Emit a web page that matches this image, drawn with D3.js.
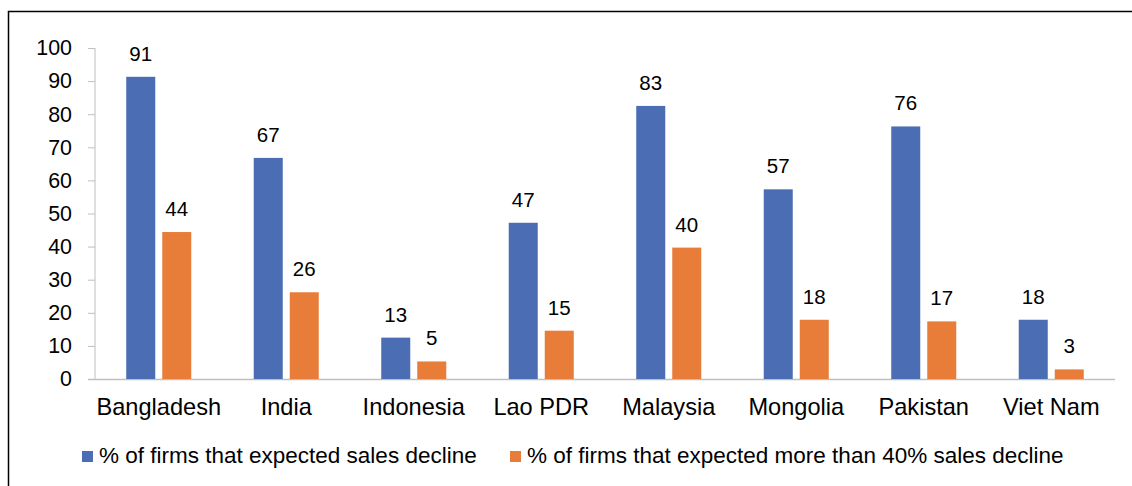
<!DOCTYPE html>
<html>
<head>
    <meta charset="UTF-8">
    <title>Expected sales decline</title>
    <script src="https://d3js.org/d3.v7.min.js"></script>
    <style>
        body { margin: 0; padding: 0; background: #fff; }
        svg { display: block; font-family: 'Liberation Sans', Arial, sans-serif; }
        .ytick text { font-size: 21.4px; fill: #000; }
        .xcat text { font-size: 23.6px; fill: #000; }
        .val { font-size: 20.5px; fill: #000; }
        .legend_text { font-size: 22.5px; fill: #000; }
    </style>
</head>
<body>
    <svg width="1132" height="486"></svg>
    <script>
        // data
        const countries = ["Bangladesh", "India", "Indonesia", "Lao PDR", "Malaysia", "Mongolia", "Pakistan", "Viet Nam"];
        const salesDecline = [91.3, 66.8, 12.5, 47.2, 82.5, 57.3, 76.3, 17.9];
        const bigDecline = [44.4, 26.2, 5.3, 14.6, 39.7, 17.9, 17.4, 2.9];
        const seriesNames = ["% of firms that expected sales decline", "% of firms that expected more than 40% sales decline"];
        const colors = ["#4a6db3", "#e77d38"];
        const yTicks = [0, 10, 20, 30, 40, 50, 60, 70, 80, 90, 100];

        const svg = d3.select("svg");

        // outer frame
        svg.append("rect")
            .attr("x", 8.5).attr("y", 11.5)
            .attr("width", 1140).attr("height", 500)
            .attr("fill", "none").attr("stroke", "#000").attr("stroke-width", 1.5);

        const x0 = d3.scaleBand().domain(countries).range([95, 1115])
            .paddingInner(0.49).paddingOuter(0.245);
        const x1 = d3.scaleBand().domain([0, 1]).range([0, x0.bandwidth()])
            .paddingInner(7 / 36);
        const y = d3.scaleLinear().domain([0, 100]).range([379, 48]);

        // y axis
        const yAxis = svg.append("g").attr("class", "ytick")
            .attr("transform", "translate(95,0)")
            .call(d3.axisLeft(y).tickValues(yTicks).tickSize(7).tickPadding(16));
        yAxis.selectAll("line").attr("stroke", "#bfbfbf");
        yAxis.select(".domain").attr("stroke", "#bfbfbf").attr("d", "M0," + y(100) + "V" + y(0));
        yAxis.selectAll("text").attr("font-family", null).attr("font-size", null);

        // baseline
        svg.append("line")
            .attr("x1", 88).attr("x2", x0.range()[1])
            .attr("y1", y(0) + 0.5).attr("y2", y(0) + 0.5)
            .attr("stroke", "#bfbfbf").attr("stroke-width", 1.3);

        // categories
        const xAxis = svg.append("g").attr("class", "xcat")
            .attr("transform", "translate(0," + y(0) + ")")
            .call(d3.axisBottom(x0).tickSize(0).tickPadding(19));
        xAxis.select(".domain").remove();
        xAxis.selectAll("text").attr("font-family", null).attr("font-size", null);

        const series = [salesDecline, bigDecline];
        const fmt = d3.format(".0f");

        series.forEach(function (vals, si) {
            const g = svg.append("g");
            g.selectAll("rect")
                .data(vals)
                .enter()
                .append("rect")
                .attr("x", function (d, i) { return x0(countries[i]) + x1(si); })
                .attr("y", function (d) { return y(d); })
                .attr("width", x1.bandwidth())
                .attr("height", function (d) { return y(0) - y(d); })
                .attr("fill", colors[si]);
            g.selectAll("text")
                .data(vals)
                .enter()
                .append("text")
                .attr("class", "val")
                .attr("text-anchor", "middle")
                .attr("x", function (d, i) { return x0(countries[i]) + x1(si) + x1.bandwidth() / 2; })
                .attr("y", function (d) { return y(d) - 16; })
                .text(function (d) { return fmt(d); });
        });

        // legend
        const legendX = [82, 510];
        const lg = svg.append("g");
        seriesNames.forEach(function (name, i) {
            lg.append("rect")
                .attr("x", legendX[i]).attr("y", 451)
                .attr("width", 11).attr("height", 11)
                .attr("fill", colors[i]);
            lg.append("text")
                .attr("class", "legend_text")
                .attr("x", legendX[i] + 17).attr("y", 463)
                .text(name);
        });
    </script>
</body>
</html>
